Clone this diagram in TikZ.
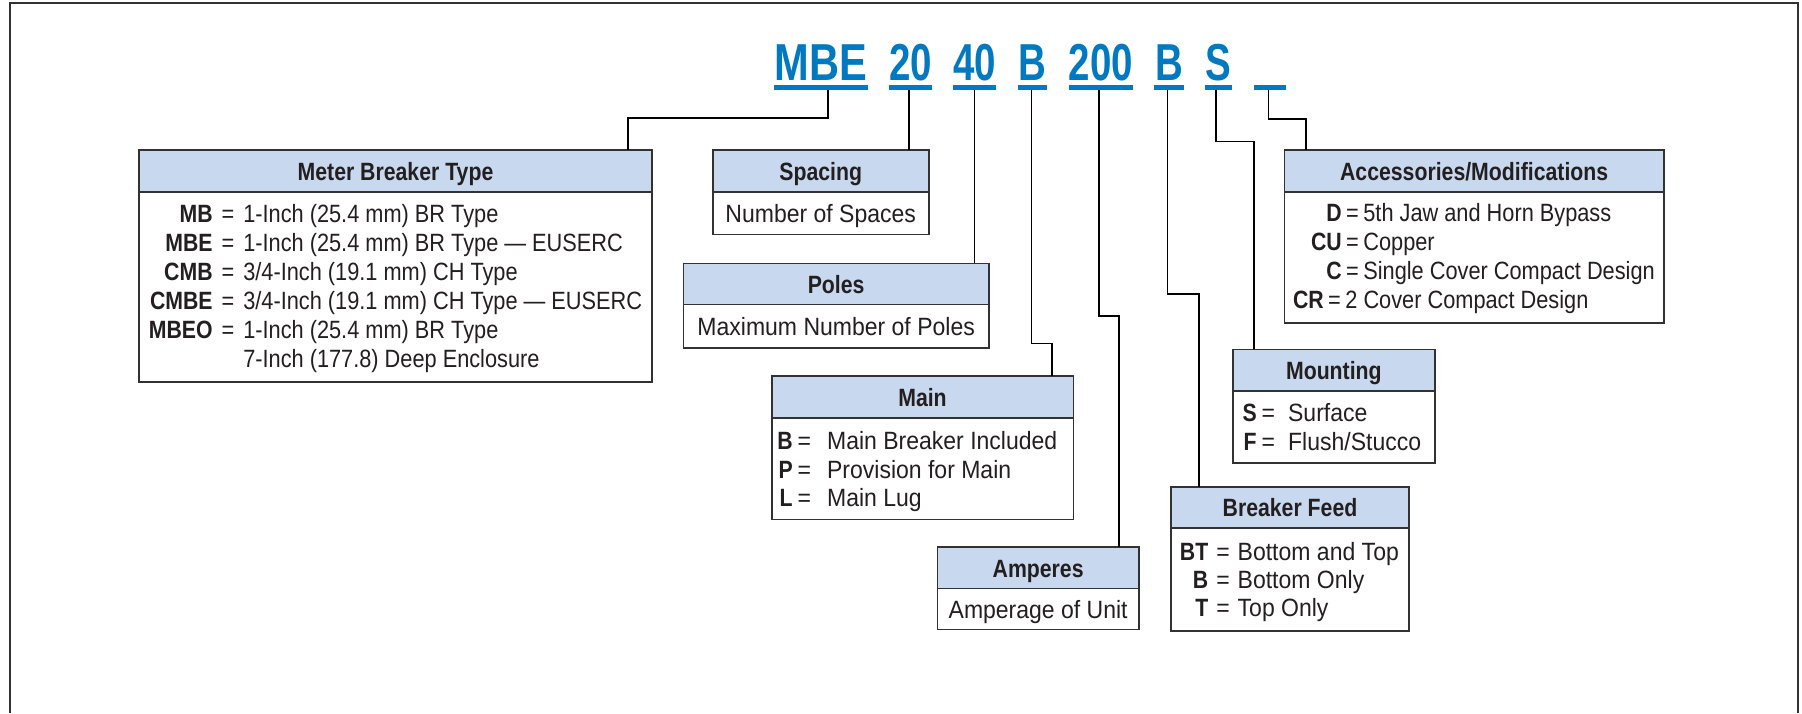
\documentclass[tikz,border=0pt]{standalone}
\usepackage{fontspec}
\setmainfont{Liberation Sans}[FakeStretch=0.92,BoldFeatures={FakeStretch=0.85}]
\newfontfamily\narrowfont{Liberation Sans}[FakeStretch=0.87,BoldFeatures={FakeStretch=0.85}]
\newfontfamily\codefont{Liberation Sans}[FakeStretch=0.74]
\newfontfamily\codefontw{Liberation Sans}[FakeStretch=0.8]
\usetikzlibrary{calc}
\definecolor{codeblue}{RGB}{0,121,193}
\definecolor{hdrfill}{RGB}{200,216,238}
\definecolor{boxline}{RGB}{50,50,50}
\definecolor{txt}{RGB}{35,31,32}
\newcommand\kvsep{\ =\ }
\newcommand\kv[3]{\makebox[#1][r]{\textbf{#2}}\kvsep#3}
\newcommand\eqs[2]{\hspace{#1}=\hspace{#2}}
\begin{document}
\begin{tikzpicture}[x=1pt,y=-1pt,
  every node/.style={inner sep=0pt, outer sep=0pt, text=txt},
  hdr/.style={draw=boxline, line width=1.6pt, fill=hdrfill, anchor=north west,
    font=\fontsize{25}{28}\selectfont\bfseries, text height=19pt, text depth=0pt},
  bodyb/.style={draw=boxline, line width=1.6pt, fill=white, anchor=north west,
    font=\fontsize{25}{28}\selectfont, text height=18.5pt, text depth=0pt},
  lst/.style={anchor=base west},
  uline/.style={fill=codeblue, minimum height=4.5pt, anchor=center},
  code/.style={anchor=base, text=codeblue, font=\codefont\bfseries\fontsize{52}{52}\selectfont},
  conn/.style={draw=black, line width=1.5pt}]
\useasboundingbox (0,0) rectangle (1802,713);
\fill[white] (0,0) rectangle (1802,713);
% frame
\draw[line width=2pt, draw=boxline] (10,713) -- (10,3) -- (1798,3) -- (1798,713);

% code
\node[code, font=\codefontw\bfseries\fontsize{52}{52}\selectfont] (c-mbe) at (820.7,80.5) {MBE};
\node[code] (c-20) at (910.5,80.5) {20};
\node[code] (c-40) at (974.7,80.5) {40};
\node[code] (c-b1) at (1032.25,80.5) {B};
\node[code] (c-200) at (1100.75,80.5) {200};
\node[code] (c-b2) at (1169.15,80.5) {B};
\node[code] (c-s) at (1218.75,80.5) {S};
\node[uline, minimum width=93.6pt] (u-mbe) at (820.7,87.5) {};
\node[uline, minimum width=43pt] (u-20) at (910.5,87.5) {};
\node[uline, minimum width=43.4pt] (u-40) at (974.7,87.5) {};
\node[uline, minimum width=29.5pt] (u-b1) at (1032.25,87.5) {};
\node[uline, minimum width=64.3pt] (u-200) at (1100.75,87.5) {};
\node[uline, minimum width=29.7pt] (u-b2) at (1169.15,87.5) {};
\node[uline, minimum width=26.7pt] (u-s) at (1218.75,87.5) {};
\node[uline, minimum width=32.1pt] (u-x) at (1269.65,87.5) {};

% Meter Breaker Type
\node[hdr, minimum width=513pt, minimum height=41.7pt] (meter-h) at (139,150) {Meter Breaker Type};
\node[bodyb, minimum width=513pt, minimum height=190.3pt] (meter) at (139,191.7) {};
\node[lst, font=\narrowfont\fontsize{25}{29}\selectfont] (meter-t) at (150.6,222.5) {\renewcommand\kvsep{\eqs{9pt}{9pt}}\begin{tabular}[t]{@{}l@{}}
\kv{62pt}{MB}{1-Inch (25.4 mm) BR Type}\\
\kv{62pt}{MBE}{1-Inch (25.4 mm) BR Type \textemdash\ EUSERC}\\
\kv{62pt}{CMB}{3/4-Inch (19.1 mm) CH Type}\\
\kv{62pt}{CMBE}{3/4-Inch (19.1 mm) CH Type \textemdash\ EUSERC}\\
\kv{62pt}{MBEO}{1-Inch (25.4 mm) BR Type}\\
\makebox[62pt]{}\phantom{\kvsep}7-Inch (177.8) Deep Enclosure
\end{tabular}};

% Spacing
\node[hdr, minimum width=216pt, minimum height=41.7pt] (spacing-h) at (712.7,150) {Spacing};
\node[bodyb, minimum width=216pt, minimum height=42.6pt] (spacing) at (712.7,191.7) {Number of Spaces};

% Poles
\node[hdr, minimum width=305.7pt, minimum height=41pt] (poles-h) at (683.3,263.3) {Poles};
\node[bodyb, minimum width=305.7pt, minimum height=43.4pt] (poles) at (683.3,304.3) {Maximum Number of Poles};

% Main
\node[hdr, minimum width=301.6pt, minimum height=41.7pt] (main-h) at (771.7,376) {Main};
\node[bodyb, minimum width=301.6pt, minimum height=101.6pt] (main) at (771.7,417.7) {};
\node[lst, font=\fontsize{25}{28.7}\selectfont] (main-t) at (776.7,449.3) {\renewcommand\kvsep{\eqs{5pt}{16pt}}\begin{tabular}[t]{@{}l@{}}
\kv{16pt}{B}{Main Breaker Included}\\
\kv{16pt}{P}{Provision for Main}\\
\kv{16pt}{L}{Main Lug}
\end{tabular}};

% Amperes
\node[hdr, minimum width=201.7pt, minimum height=41.6pt] (amp-h) at (937.3,546.7) {Amperes};
\node[bodyb, minimum width=201.7pt, minimum height=41pt] (amp) at (937.3,588.3) {Amperage of Unit};

% Accessories
\node[hdr, minimum width=379.7pt, minimum height=41.7pt] (acc-h) at (1284.3,150) {Accessories/Modifications};
\node[bodyb, minimum width=379.7pt, minimum height=131pt] (acc) at (1284.3,191.7) {};
\node[lst, font=\narrowfont\fontsize{25}{28.8}\selectfont] (acc-t) at (1310.7,221.7) {\renewcommand\kvsep{\eqs{4.5pt}{4.5pt}}\begin{tabular}[t]{@{}l@{}}
\kv{31pt}{D}{5th Jaw and Horn Bypass}\\
\kv{31pt}{CU}{Copper}\\
\kv{31pt}{C}{Single Cover Compact Design}\\
\hspace*{-18pt}\kv{31pt}{CR}{2 Cover Compact Design}
\end{tabular}};

% Mounting
\node[hdr, minimum width=202.3pt, minimum height=41.4pt] (mount-h) at (1232.7,349.3) {Mounting};
\node[bodyb, minimum width=202.3pt, minimum height=72pt] (mount) at (1232.7,390.7) {};
\node[lst, font=\fontsize{25}{28.3}\selectfont] (mount-t) at (1240.7,421.7) {\renewcommand\kvsep{\eqs{5pt}{13pt}}\begin{tabular}[t]{@{}l@{}}
\kv{16pt}{S}{Surface}\\
\kv{16pt}{F}{Flush/Stucco}
\end{tabular}};

% Breaker Feed
\node[hdr, minimum width=238pt, minimum height=41.3pt] (feed-h) at (1171,486.7) {Breaker Feed};
\node[bodyb, minimum width=238pt, minimum height=102.7pt] (feed) at (1171,528) {};
\node[lst, font=\fontsize{25}{28.3}\selectfont] (feed-t) at (1179.3,560) {\renewcommand\kvsep{\eqs{8pt}{8pt}}\begin{tabular}[t]{@{}l@{}}
\kv{29pt}{BT}{Bottom and Top}\\
\kv{29pt}{B}{Bottom Only}\\
\kv{29pt}{T}{Top Only}
\end{tabular}};

% connectors
\draw[conn] ([xshift=7.3pt]u-mbe.south) -- ++(0,28.25) -| ([xshift=232.5pt]meter-h.north);
\draw[conn] ([xshift=-1.5pt]u-20.south) -- ([xshift=-1.5pt]u-20.south |- spacing-h.north);
\draw[conn] (u-40.south) -- (u-40.south |- poles-h.north);
\draw[conn] ([xshift=-0.75pt]u-b1.south) -- ++(0,253.55) -| ([xshift=129.5pt]main-h.north);
\draw[conn] ([xshift=-1.75pt]u-200.south) -- ++(0,226.25) -| ([xshift=80.85pt]amp-h.north);
\draw[conn] ([xshift=-1.65pt]u-b2.south) -- ++(0,204.25) -| ([xshift=-91pt]feed-h.north);
\draw[conn] ([xshift=-2.75pt]u-s.south) -- ++(0,51.95) -| ([xshift=-79.85pt]mount-h.north);
\draw[conn] ([xshift=-1.05pt]u-x.south) -- ++(0,29.25) -| ([xshift=-168.15pt]acc-h.north);
\end{tikzpicture}
\end{document}
